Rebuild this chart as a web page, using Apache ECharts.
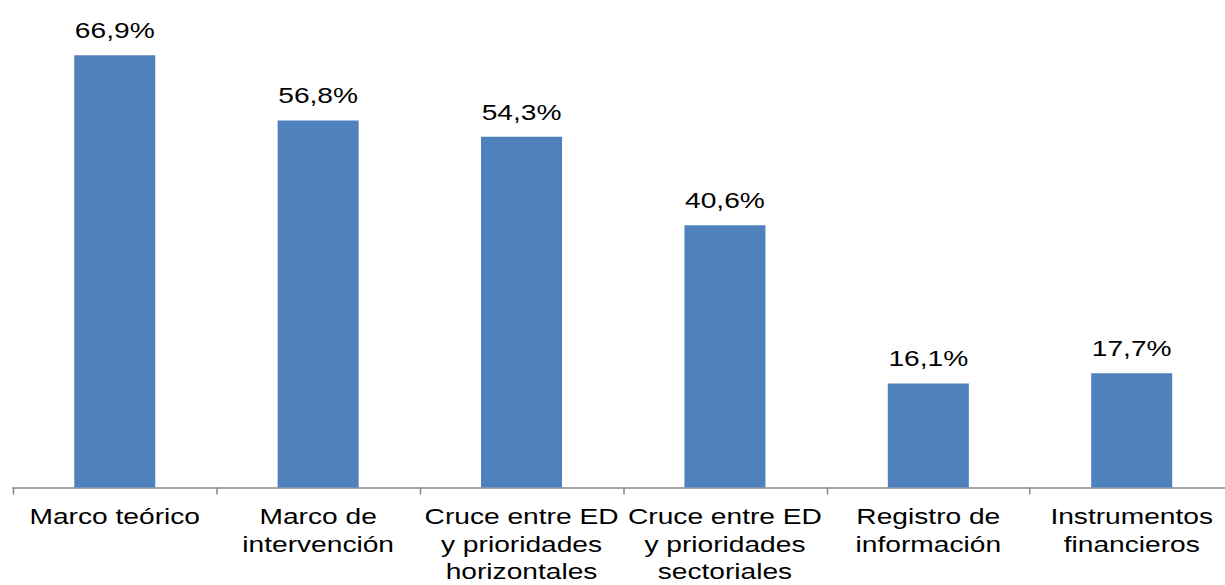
<!DOCTYPE html>
<html><head><meta charset="utf-8">
<script src="https://cdn.jsdelivr.net/npm/echarts@6/dist/echarts.min.js"></script>
<style>
html,body{margin:0;padding:0;background:#fff;overflow:hidden;width:1225px;height:585px}
#c{width:964px;height:585px;transform:scaleX(1.28);transform-origin:0 0}
</style>
</head><body><div id="c"></div>
<script>
const categories = ["Marco teórico", "Marco de\nintervención", "Cruce entre ED\ny prioridades\nhorizontales", "Cruce entre ED\ny prioridades\nsectoriales", "Registro de\ninformación", "Instrumentos\nfinancieros"];
const values = [66.9, 56.8, 54.3, 40.6, 16.1, 17.7];

const chart = echarts.init(document.getElementById('c'), null, {renderer: 'svg'});
chart.setOption({
  animation: false,
  backgroundColor: '#ffffff',
  grid: {left: 10.2, right: 0.4, top: 9.5, bottom: 94.5, containLabel: false},
  xAxis: {
    type: 'category',
    data: categories,
    boundaryGap: true,
    axisLine: {lineStyle: {color: '#8a8a8a', width: 1.5}},
    axisTick: {show: true, length: 7, inside: false, lineStyle: {color: '#8a8a8a', width: 1.2}},
    axisLabel: {
      interval: 0, margin: 15, color: '#000',
      fontFamily: 'Liberation Sans, Arial, sans-serif', fontSize: 22, lineHeight: 27.5
    }
  },
  yAxis: {type: 'value', min: 0, max: 74, show: false, splitLine: {show: false}},
  series: [{
    type: 'bar',
    data: values,
    barWidth: 63.3,
    itemStyle: {color: '#4F81BD'},
    label: {
      show: true, position: 'top', distance: 14, color: '#000',
      fontFamily: 'Liberation Sans, Arial, sans-serif', fontSize: 22,
      formatter: p => p.value.toFixed(1).replace('.', ',') + '%'
    }
  }]
});
</script></body></html>
